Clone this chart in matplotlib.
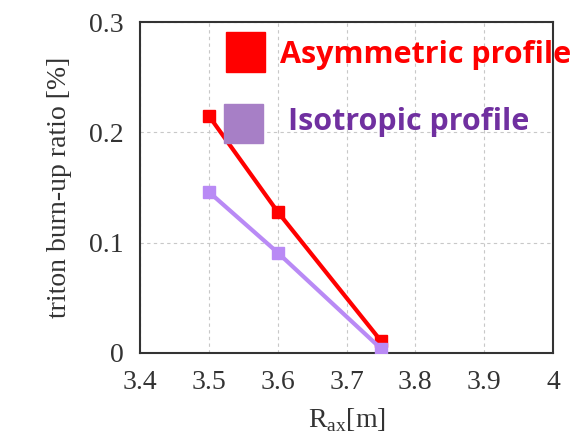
import matplotlib
matplotlib.use("Agg")
import matplotlib.pyplot as plt
from matplotlib.patches import Rectangle

r_ax = [3.5, 3.6, 3.75]
asym = [0.215, 0.128, 0.011]
iso = [0.146, 0.091, 0.004]
xticks = [3.4, 3.5, 3.6, 3.7, 3.8, 3.9, 4.0]
xticklabels = ["3.4", "3.5", "3.6", "3.7", "3.8", "3.9", "4"]
yticks = [0, 0.1, 0.2, 0.3]
yticklabels = ["0", "0.1", "0.2", "0.3"]

fig = plt.figure(figsize=(5.82, 4.42), dpi=100)
ax = fig.add_axes([140/582, 1-353/442, (553-140)/582, (353-22)/442])

ax.plot(r_ax, asym, color="#FF0000", lw=3, marker="s", ms=8, zorder=3)
ax.plot(r_ax, iso, color="#B98AF5", lw=3, marker="s", ms=8, zorder=3)

ax.set_xlim(3.4, 4.0)
ax.set_ylim(0, 0.3)
ax.set_xticks(xticks)
ax.set_xticklabels(xticklabels)
ax.set_yticks(yticks)
ax.set_yticklabels(yticklabels)
ax.grid(True, ls=(0, (3, 3)), color="#C8C8C8", lw=0.8)
for s in ax.spines.values():
    s.set_linewidth(1.5)
    s.set_color("#333333")
ax.tick_params(direction="in", length=0, labelsize=20, pad=12)
for lab in ax.get_xticklabels() + ax.get_yticklabels():
    lab.set_family("Liberation Serif")
    lab.set_color("#333333")

ax.set_xlabel(r"R$_{\mathregular{ax}}$[m]", family="Liberation Serif", fontsize=20, color="#333333", labelpad=8)
ax.set_ylabel("triton burn-up ratio [%]", family="Liberation Serif", fontsize=20, color="#333333", labelpad=12)

# legend-like annotation
fig.patches.append(Rectangle((226/582, 1-72/442), 39/582, 40/442, transform=fig.transFigure, color="#FF0000", zorder=5))
fig.patches.append(Rectangle((224/582, 1-143/442), 39/582, 39/442, transform=fig.transFigure, color="#A77FC6", zorder=5))
fig.text(280/582, 1-55/442, "Asymmetric profile", color="#FF0000", fontsize=22, fontweight="bold",
         family="Open Sans", va="center", ha="left")
fig.text(288/582, 1-122/442, "Isotropic profile", color="#7030A0", fontsize=22, fontweight="bold",
         family="Open Sans", va="center", ha="left")

fig.savefig("out.png", dpi=100)
